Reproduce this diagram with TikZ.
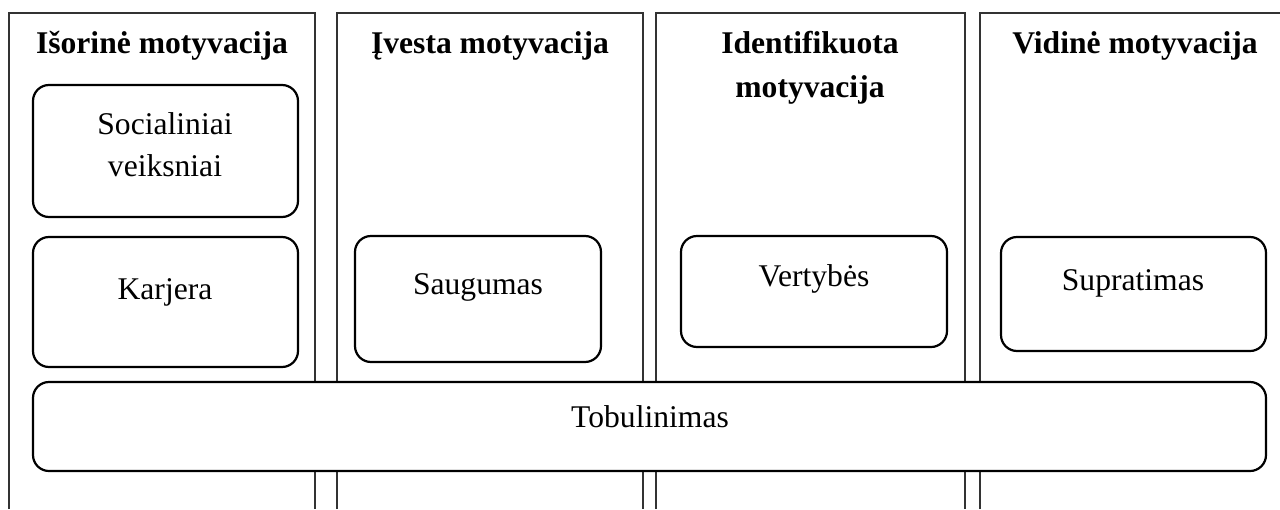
\documentclass[tikz,border=0pt]{standalone}
\usepackage{fontspec}
\setmainfont{Liberation Serif}

\tikzset{
  col/.style={line width=0.6pt, draw=black!80},
  box/.style={draw, fill=white, line width=1.1pt, rounded corners=8pt, inner sep=0pt},
  head/.style={anchor=base, font=\fontsize{15.8}{19}\selectfont\bfseries},
  txt/.style={anchor=base, font=\fontsize{15.8}{19}\selectfont},
}

\begin{document}
\begin{tikzpicture}[x=0.5pt,y=-0.5pt]
  \useasboundingbox (0,0) rectangle (1280,509);
  % columns
  \draw [col] (9,509) -- (9,13) -- (315,13) -- (315,509);
  \draw [col] (337,509) -- (337,13) -- (643,13) -- (643,509);
  \draw [col] (656,509) -- (656,13) -- (965,13) -- (965,509);
  \draw [col] (980,509) -- (980,13) -- (1282,13);
  % headers
  \node [head] (isor) at (162,53) {Išorinė motyvacija};
  \node [head] (ivest) at (490,53) {Įvesta motyvacija};
  \node [head] (ident1) at (810,53) {Identifikuota};
  \node [head] (ident2) at (810,97) {motyvacija};
  \node [head] (vidin) at (1135,53) {Vidinė motyvacija};
  % boxes
  \node [box, minimum width=132.5pt, minimum height=66pt] (social) at (165.5,151) {};
  \node [box, minimum width=132.5pt, minimum height=65pt] (karjera) at (165.5,302) {};
  \node [box, minimum width=123pt, minimum height=63pt] (saug) at (478,299) {};
  \node [box, minimum width=133pt, minimum height=55.5pt] (vert) at (814,291.5) {};
  \node [box, minimum width=132.5pt, minimum height=57pt] (supr) at (1133.5,294) {};
  \node [box, minimum width=616.5pt, minimum height=44.5pt] (tobul) at (649.5,426.5) {};
  % box texts
  \node [txt] (social1) at (165,134) {Socialiniai};
  \node [txt] (social2) at (165,176) {veiksniai};
  \node [txt] (karjera-t) at (165,299) {Karjera};
  \node [txt] (saug-t) at (478,294) {Saugumas};
  \node [txt] (vert-t) at (814,286) {Vertybės};
  \node [txt] (supr-t) at (1133,290) {Supratimas};
  \node [txt] (tobul-t) at (650,427) {Tobulinimas};
\end{tikzpicture}
\end{document}
